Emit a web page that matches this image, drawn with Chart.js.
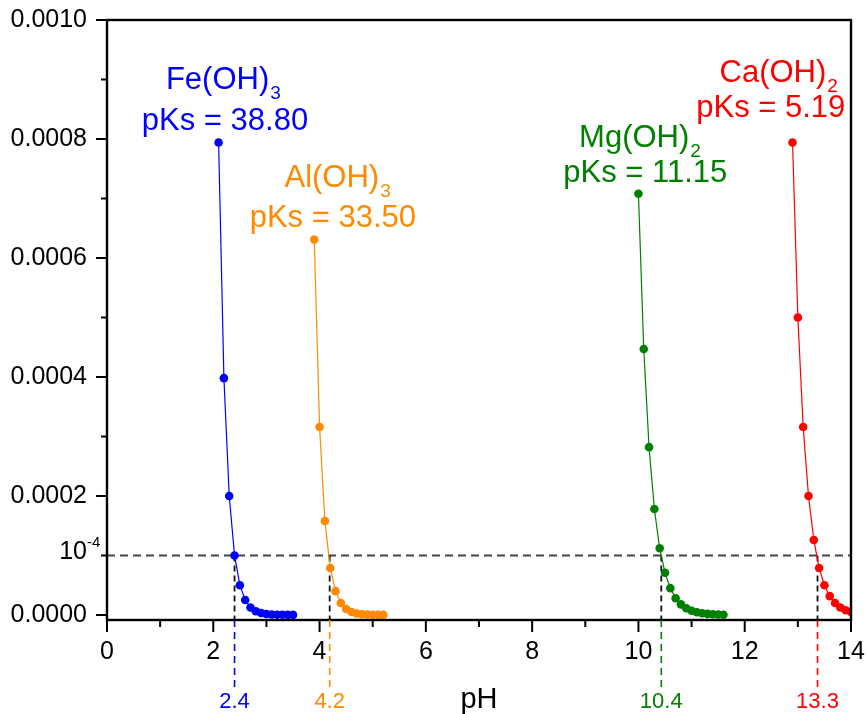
<!DOCTYPE html>
<html>
<head>
<meta charset="utf-8">
<script src="https://cdn.jsdelivr.net/npm/chart.js@4.4.1/dist/chart.umd.min.js"></script>
<style>
  html, body { margin: 0; padding: 0; background: #fff; }
  #wrap { width: 866px; height: 714px; }
</style>
</head>
<body>
<div id="wrap"><canvas id="phChart" width="866" height="714"></canvas></div>
<script>
// values (concentration in mol/L vs pH)
const fePH = [2.1, 2.2, 2.3, 2.4, 2.5, 2.6, 2.7, 2.8, 2.9, 3.0, 3.1, 3.2, 3.3, 3.4, 3.5];
const feConc = [7.94e-4, 3.98e-4, 2.0e-4, 1.0e-4, 5.0e-5, 2.5e-5, 1.26e-5, 6.3e-6, 3.2e-6, 1.6e-6, 8e-7, 4e-7, 2e-7, 1e-7, 5e-8];

const alPH = [3.9, 4.0, 4.1, 4.2, 4.3, 4.4, 4.5, 4.6, 4.7, 4.8, 4.9, 5.0, 5.1, 5.2];
const alConc = [6.31e-4, 3.16e-4, 1.58e-4, 7.9e-5, 4.0e-5, 2.0e-5, 1.0e-5, 5.0e-6, 2.5e-6, 1.26e-6, 6.3e-7, 3.2e-7, 1.6e-7, 8e-8];

const mgPH = [10.0, 10.1, 10.2, 10.3, 10.4, 10.5, 10.6, 10.7, 10.8, 10.9, 11.0, 11.1, 11.2, 11.3, 11.4, 11.5, 11.6];
const mgConc = [7.08e-4, 4.47e-4, 2.82e-4, 1.78e-4, 1.12e-4, 7.1e-5, 4.5e-5, 2.8e-5, 1.78e-5, 1.12e-5, 7.1e-6, 4.5e-6, 2.8e-6, 1.8e-6, 1.1e-6, 7e-7, 4.5e-7];

const caPH = [12.9, 13.0, 13.1, 13.2, 13.3, 13.4, 13.5, 13.6, 13.7, 13.8, 13.9, 14.0];
const caConc = [7.94e-4, 5.0e-4, 3.16e-4, 2.0e-4, 1.26e-4, 7.9e-5, 5.0e-5, 3.16e-5, 2.0e-5, 1.26e-5, 7.9e-6, 5.0e-6];

const compounds = ['Fe(OH)', 'Al(OH)', 'Mg(OH)', 'Ca(OH)'];
const subscripts = ['3', '3', '2', '2'];
const pKsValues = ['38.80', '33.50', '11.15', '5.19'];

const limitConc = 1e-4;
const crossPH = [2.4, 4.19, 10.43, 13.37];
const crossLabels = ['2.4', '4.2', '10.4', '13.3'];

const xTicks = [0, 1, 2, 3, 4, 5, 6, 7, 8, 9, 10, 11, 12, 13, 14];
const yTicks = [0, 1e-4, 2e-4, 3e-4, 4e-4, 5e-4, 6e-4, 7e-4, 8e-4, 9e-4, 1e-3];

const colors = ['#0000ff', '#ff8a00', '#008000', '#ff0000'];
const FONT = '"Liberation Sans", Arial, sans-serif';

// label anchors in data units: [line1 centre pH, line1 baseline, line2 centre pH, line2 baseline]
const labelSpots = [
  [2.18, 8.84e-4, 2.22, 8.15e-4],
  [4.33, 7.19e-4, 4.25, 6.52e-4],
  [10.02, 7.87e-4, 10.13, 7.28e-4],
  [12.63, 8.96e-4, 12.49, 8.37e-4]
];

const toPoints = (xs, ys) => xs.map((v, i) => ({ x: v, y: ys[i] }));
const series = [
  toPoints(fePH, feConc),
  toPoints(alPH, alConc),
  toPoints(mgPH, mgConc),
  toPoints(caPH, caConc)
];

const extras = {
  id: 'extras',
  beforeDatasetsDraw(chart) {
    const { ctx, chartArea: a, scales: { x, y } } = chart;
    const yl = y.getPixelForValue(limitConc);
    ctx.save();
    ctx.lineWidth = 2;
    ctx.strokeStyle = '#444';
    ctx.setLineDash([8, 5]);
    ctx.beginPath();
    ctx.moveTo(a.left, yl);
    ctx.lineTo(a.right, yl);
    ctx.stroke();

    ctx.strokeStyle = '#111';
    ctx.lineWidth = 1.8;
    ctx.setLineDash([6, 4]);
    crossPH.forEach(p => {
      const px = x.getPixelForValue(p);
      ctx.beginPath();
      ctx.moveTo(px, yl);
      ctx.lineTo(px, a.bottom);
      ctx.stroke();
    });
    ctx.restore();
  },
  afterDraw(chart) {
    const { ctx, chartArea: a, scales: { x, y } } = chart;
    ctx.save();

    // frame
    ctx.strokeStyle = '#000';
    ctx.lineWidth = 2.4;
    ctx.setLineDash([]);
    ctx.strokeRect(a.left, a.top, a.right - a.left, a.bottom - a.top);

    // tick marks (major long, minor short)
    ctx.lineWidth = 2;
    ctx.beginPath();
    xTicks.forEach(v => {
      const px = x.getPixelForValue(v);
      ctx.moveTo(px, a.bottom);
      ctx.lineTo(px, a.bottom + (v % 2 === 0 ? 12 : 7));
    });
    yTicks.forEach((v, i) => {
      const py = y.getPixelForValue(v);
      ctx.moveTo(a.left, py);
      ctx.lineTo(a.left - (i % 2 === 0 ? 11 : 6), py);
    });
    ctx.stroke();

    // 10^-4 label
    const y4 = y.getPixelForValue(limitConc);
    ctx.fillStyle = '#000';
    ctx.textBaseline = 'alphabetic';
    ctx.textAlign = 'right';
    ctx.font = '25px ' + FONT;
    ctx.fillText('10', a.left - 20, y4 + 4);
    ctx.textAlign = 'left';
    ctx.font = '15px ' + FONT;
    ctx.fillText('-4', a.left - 20, y4 - 8);

    // axis title
    ctx.textAlign = 'center';
    ctx.font = '29px ' + FONT;
    ctx.fillText('pH', (a.left + a.right) / 2, 708);

    // coloured drop lines below the axis + values
    crossPH.forEach((p, i) => {
      const px = x.getPixelForValue(p);
      ctx.strokeStyle = colors[i];
      ctx.lineWidth = 1.6;
      ctx.setLineDash([7, 5]);
      ctx.beginPath();
      ctx.moveTo(px, a.bottom);
      ctx.lineTo(px, a.bottom + 68);
      ctx.stroke();
      ctx.fillStyle = colors[i];
      ctx.font = '22px ' + FONT;
      ctx.textAlign = 'center';
      ctx.fillText(crossLabels[i], px, 708);
    });

    // compound labels
    compounds.forEach((name, i) => {
      const s = labelSpots[i];
      ctx.fillStyle = colors[i];
      ctx.font = '31px ' + FONT;
      const w1 = ctx.measureText(name).width;
      ctx.font = '19px ' + FONT;
      const w2 = ctx.measureText(subscripts[i]).width;
      const cx = x.getPixelForValue(s[0]);
      const b1 = y.getPixelForValue(s[1]);
      const start = cx - (w1 + w2) / 2;
      ctx.textAlign = 'left';
      ctx.font = '31px ' + FONT;
      ctx.fillText(name, start, b1);
      ctx.font = '19px ' + FONT;
      ctx.fillText(subscripts[i], start + w1 + 1, b1 + 10);

      ctx.textAlign = 'center';
      ctx.font = '31px ' + FONT;
      ctx.fillText('pKs = ' + pKsValues[i], x.getPixelForValue(s[2]), y.getPixelForValue(s[3]));
    });

    ctx.restore();
  }
};

new Chart(document.getElementById('phChart'), {
  type: 'scatter',
  data: {
    datasets: series.map((pts, i) => ({
      label: compounds[i] + subscripts[i],
      data: pts,
      showLine: true,
      borderColor: colors[i],
      backgroundColor: colors[i],
      borderWidth: 1.2,
      pointRadius: 4.3,
      pointBorderWidth: 0,
      pointBackgroundColor: colors[i]
    }))
  },
  options: {
    responsive: false,
    animation: false,
    layout: { padding: { left: 0, right: 15, top: 20, bottom: 0 } },
    plugins: { legend: { display: false }, tooltip: { enabled: false } },
    scales: {
      x: {
        type: 'linear',
        min: 0,
        max: 14,
        afterFit: s => { s.height = 94; s.paddingLeft = 0; s.paddingRight = 0; },
        afterBuildTicks: s => { s.ticks = xTicks.map(v => ({ value: v })); },
        grid: { display: true, drawOnChartArea: false, drawTicks: true, tickLength: 12, tickColor: 'rgba(0,0,0,0)' },
        border: { display: false },
        ticks: {
          color: '#000',
          font: { family: FONT, size: 25 },
          padding: 5,
          maxRotation: 0,
          autoSkip: false,
          callback: v => (v % 2 === 0 ? String(v) : '')
        }
      },
      y: {
        min: -0.0000085,
        max: 0.001,
        afterFit: s => { s.width = 107; s.paddingTop = 0; s.paddingBottom = 0; },
        afterBuildTicks: s => { s.ticks = yTicks.map(v => ({ value: v })); },
        grid: { display: true, drawOnChartArea: false, drawTicks: true, tickLength: 12, tickColor: 'rgba(0,0,0,0)' },
        border: { display: false },
        ticks: {
          color: '#000',
          font: { family: FONT, size: 25 },
          padding: 8,
          autoSkip: false,
          callback: v => {
            const k = Math.round(v * 1e4);
            return k % 2 === 0 ? (k / 1e4).toFixed(4) : '';
          }
        }
      }
    }
  },
  plugins: [extras]
});
</script>
</body>
</html>
